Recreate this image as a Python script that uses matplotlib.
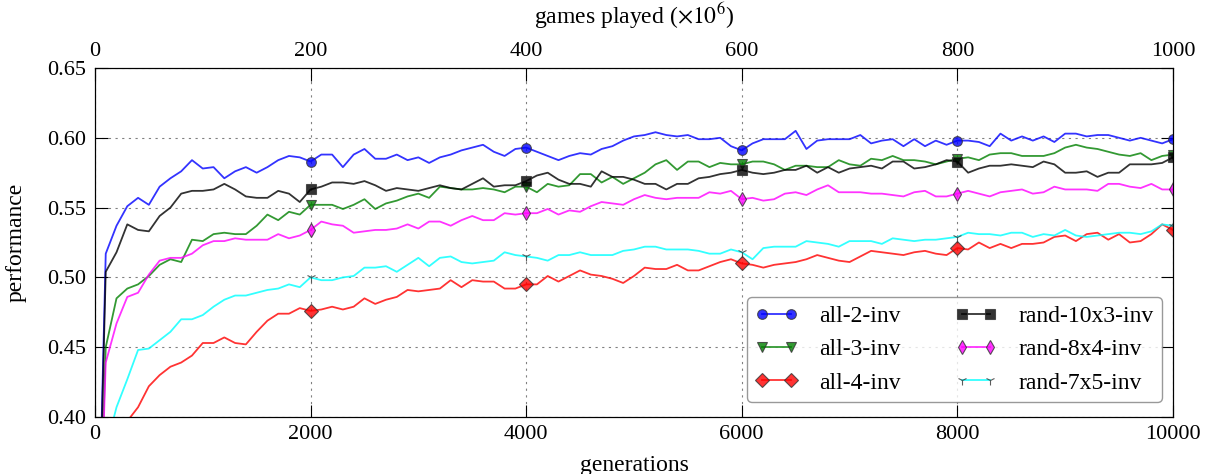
import matplotlib
matplotlib.use('Agg')
import matplotlib.pyplot as plt
import numpy as np

plt.rcParams['font.family'] = ['Liberation Serif', 'DejaVu Serif']
plt.rcParams['mathtext.fontset'] = 'stix'

generations = np.arange(0, 10001, 100)

all_2_inv = [
    0.200, 0.517, 0.537, 0.551, 0.557, 0.552, 0.565, 0.571, 0.576, 0.584,
    0.578, 0.579, 0.571, 0.576, 0.579, 0.575, 0.579, 0.584, 0.587, 0.586,
    0.583, 0.588, 0.588, 0.579, 0.588, 0.592, 0.585, 0.585, 0.588, 0.584,
    0.586, 0.582, 0.586, 0.588, 0.591, 0.593, 0.595, 0.590, 0.587, 0.592,
    0.593, 0.590, 0.587, 0.584, 0.587, 0.589, 0.588, 0.592, 0.594, 0.598,
    0.601, 0.602, 0.604, 0.602, 0.601, 0.602, 0.599, 0.599, 0.600, 0.594,
    0.591, 0.596, 0.599, 0.599, 0.599, 0.605, 0.592, 0.598, 0.599, 0.599,
    0.599, 0.602, 0.596, 0.598, 0.599, 0.594, 0.599, 0.594, 0.598, 0.595,
    0.598, 0.598, 0.597, 0.594, 0.603, 0.598, 0.601, 0.598, 0.601, 0.597,
    0.603, 0.603, 0.601, 0.602, 0.602, 0.600, 0.598, 0.600, 0.598, 0.596,
    0.599]

all_3_inv = [
    0.200, 0.450, 0.485, 0.492, 0.495, 0.501, 0.509, 0.513, 0.511, 0.527,
    0.526, 0.531, 0.532, 0.531, 0.531, 0.537, 0.545, 0.541, 0.547, 0.545,
    0.552, 0.552, 0.552, 0.549, 0.552, 0.556, 0.549, 0.553, 0.555, 0.558,
    0.560, 0.557, 0.565, 0.564, 0.563, 0.563, 0.564, 0.563, 0.561, 0.565,
    0.565, 0.561, 0.567, 0.565, 0.566, 0.574, 0.574, 0.568, 0.572, 0.567,
    0.571, 0.575, 0.581, 0.584, 0.577, 0.583, 0.583, 0.579, 0.582, 0.581,
    0.581, 0.583, 0.583, 0.581, 0.577, 0.580, 0.580, 0.579, 0.579, 0.584,
    0.581, 0.580, 0.585, 0.584, 0.587, 0.584, 0.584, 0.583, 0.581, 0.583,
    0.585, 0.586, 0.584, 0.588, 0.589, 0.589, 0.587, 0.587, 0.587, 0.589,
    0.593, 0.595, 0.593, 0.592, 0.590, 0.588, 0.587, 0.589, 0.584, 0.587,
    0.588]

all_4_inv = [
    0.200, 0.330, 0.370, 0.397, 0.407, 0.422, 0.430, 0.436, 0.439, 0.444,
    0.453, 0.453, 0.457, 0.453, 0.452, 0.461, 0.469, 0.474, 0.474, 0.478,
    0.476, 0.477, 0.479, 0.477, 0.479, 0.485, 0.481, 0.484, 0.486, 0.491,
    0.490, 0.491, 0.492, 0.498, 0.493, 0.498, 0.497, 0.497, 0.492, 0.492,
    0.495, 0.495, 0.501, 0.497, 0.501, 0.505, 0.502, 0.501, 0.499, 0.496,
    0.501, 0.507, 0.506, 0.506, 0.509, 0.505, 0.505, 0.508, 0.511, 0.513,
    0.510, 0.509, 0.507, 0.509, 0.510, 0.511, 0.513, 0.516, 0.514, 0.512,
    0.511, 0.515, 0.519, 0.518, 0.517, 0.516, 0.518, 0.519, 0.517, 0.516,
    0.521, 0.520, 0.525, 0.521, 0.524, 0.521, 0.524, 0.524, 0.525, 0.529,
    0.530, 0.526, 0.531, 0.532, 0.527, 0.531, 0.525, 0.526, 0.531, 0.538,
    0.534]

rand_10x3_inv = [
    0.200, 0.504, 0.518, 0.538, 0.534, 0.533, 0.544, 0.550, 0.560, 0.562,
    0.562, 0.563, 0.567, 0.563, 0.558, 0.557, 0.557, 0.562, 0.560, 0.554,
    0.563, 0.565, 0.568, 0.568, 0.567, 0.569, 0.566, 0.562, 0.564, 0.563,
    0.562, 0.564, 0.566, 0.564, 0.563, 0.567, 0.571, 0.565, 0.566, 0.566,
    0.569, 0.573, 0.575, 0.570, 0.567, 0.567, 0.565, 0.576, 0.572, 0.572,
    0.570, 0.567, 0.567, 0.563, 0.567, 0.567, 0.571, 0.572, 0.574, 0.575,
    0.577, 0.575, 0.574, 0.575, 0.577, 0.577, 0.580, 0.575, 0.579, 0.575,
    0.578, 0.579, 0.580, 0.578, 0.583, 0.583, 0.578, 0.579, 0.581, 0.584,
    0.583, 0.575, 0.578, 0.580, 0.580, 0.581, 0.580, 0.579, 0.583, 0.581,
    0.575, 0.575, 0.576, 0.572, 0.575, 0.575, 0.581, 0.581, 0.581, 0.582,
    0.586]

rand_8x4_inv = [
    0.200, 0.439, 0.467, 0.486, 0.489, 0.502, 0.512, 0.514, 0.514, 0.517,
    0.523, 0.526, 0.526, 0.528, 0.527, 0.527, 0.527, 0.531, 0.528, 0.530,
    0.534, 0.540, 0.538, 0.537, 0.532, 0.533, 0.534, 0.534, 0.535, 0.538,
    0.535, 0.540, 0.540, 0.537, 0.541, 0.544, 0.541, 0.541, 0.546, 0.545,
    0.546, 0.546, 0.549, 0.545, 0.548, 0.547, 0.551, 0.554, 0.553, 0.552,
    0.556, 0.559, 0.557, 0.556, 0.557, 0.557, 0.557, 0.561, 0.560, 0.562,
    0.556, 0.557, 0.555, 0.556, 0.560, 0.561, 0.559, 0.563, 0.566, 0.561,
    0.561, 0.561, 0.560, 0.560, 0.559, 0.558, 0.561, 0.562, 0.558, 0.558,
    0.560, 0.562, 0.560, 0.558, 0.561, 0.562, 0.563, 0.560, 0.561, 0.565,
    0.563, 0.563, 0.563, 0.562, 0.567, 0.567, 0.565, 0.564, 0.567, 0.563,
    0.563]

rand_7x5_inv = [
    0.200, 0.377, 0.407, 0.427, 0.448, 0.449, 0.455, 0.461, 0.470, 0.470,
    0.473, 0.479, 0.484, 0.487, 0.487, 0.489, 0.491, 0.492, 0.495, 0.493,
    0.500, 0.498, 0.498, 0.500, 0.501, 0.507, 0.507, 0.508, 0.504, 0.509,
    0.514, 0.508, 0.514, 0.515, 0.511, 0.510, 0.511, 0.512, 0.518, 0.516,
    0.515, 0.514, 0.512, 0.516, 0.516, 0.518, 0.516, 0.516, 0.516, 0.519,
    0.520, 0.522, 0.522, 0.520, 0.520, 0.520, 0.519, 0.517, 0.517, 0.520,
    0.518, 0.513, 0.521, 0.522, 0.522, 0.522, 0.526, 0.525, 0.524, 0.522,
    0.526, 0.526, 0.526, 0.524, 0.528, 0.527, 0.526, 0.527, 0.527, 0.528,
    0.529, 0.532, 0.531, 0.531, 0.530, 0.532, 0.532, 0.529, 0.531, 0.530,
    0.534, 0.530, 0.529, 0.530, 0.531, 0.532, 0.532, 0.531, 0.533, 0.538,
    0.537]

series = [
    ('all-2-inv', all_2_inv, '#0000ff', 'o'),
    ('all-3-inv', all_3_inv, '#008000', 'v'),
    ('all-4-inv', all_4_inv, '#ff0000', 'D'),
    ('rand-10x3-inv', rand_10x3_inv, '#000000', 's'),
    ('rand-8x4-inv', rand_8x4_inv, '#ff00ff', 'd'),
    ('rand-7x5-inv', rand_7x5_inv, '#00ffff', '1'),
]

fig = plt.figure(figsize=(12.05, 4.74), dpi=100)
ax = fig.add_axes([0.0788, 0.1203, 0.8946, 0.7362])

for name, vals, col, mk in series:
    ax.plot(generations, vals, color=col, alpha=0.8, lw=1.3, marker=mk,
            markevery=20, markersize=7, markeredgecolor='0.2',
            markeredgewidth=0.8, label=name)

ax.set_xlim(0, 10000)
ax.set_ylim(0.40, 0.65)
ax.set_xticks(np.arange(0, 10001, 2000))
ax.set_yticks(np.arange(0.40, 0.651, 0.05))
ax.set_yticklabels(['%.2f' % v for v in np.arange(0.40, 0.651, 0.05)])
ax.grid(True, linestyle=(0, (2, 4)), color='0.5', lw=0.8)
ax.tick_params(direction='in', length=9, labelsize=16, pad=6,
               right=True, top=False)
ax.set_xlabel('generations', fontsize=17, labelpad=8)
ax.set_ylabel('performance', fontsize=17, labelpad=15)

top = ax.twiny()
top.set_xlim(0, 1000)
top.set_xticks(np.arange(0, 1001, 200))
top.tick_params(direction='in', length=9, labelsize=16, pad=5)
top.set_xlabel(r'games played ($\times 10^6$)', fontsize=17, labelpad=13)

ax.legend(loc='lower right', ncol=2, numpoints=2, fontsize=17,
          handlelength=1.8, columnspacing=2.3, labelspacing=0.5,
          borderpad=0.35, handletextpad=0.9, fancybox=True, edgecolor='0.5',
          borderaxespad=0, bbox_to_anchor=(0.99, 0.043))

fig.savefig('out.png', dpi=100)
